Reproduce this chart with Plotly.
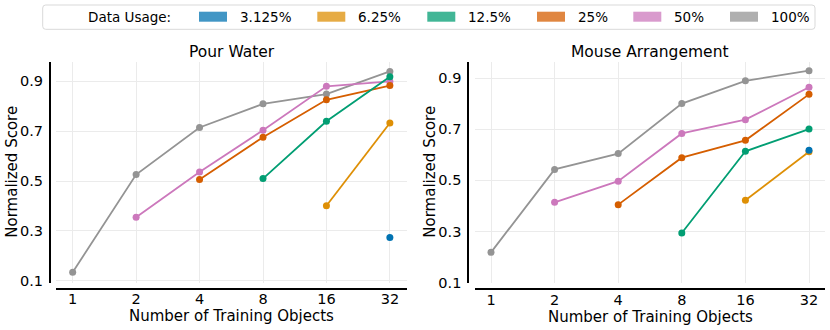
import numpy as np
import plotly.graph_objects as go

# x categories (number of training objects)
objects = [1, 2, 4, 8, 16, 32]
usage_labels = ['3.125%', '6.25%', '12.5%', '25%', '50%', '100%']
line_colors = ['#0173B2', '#DE8F05', '#029E73', '#D55E00', '#CC78BC', '#949494']
patch_colors = ['#4196C5', '#E6AB44', '#41B696', '#E08640', '#D99ACD', '#AFAFAF']

# Pour Water scores per data usage
pw_3125 = [None, None, None, None, None, 0.273]
pw_625 = [None, None, None, None, 0.401, 0.733]
pw_125 = [None, None, None, 0.510, 0.740, 0.919]
pw_25 = [None, None, 0.506, 0.676, 0.826, 0.883]
pw_50 = [None, 0.355, 0.536, 0.704, 0.880, 0.900]
pw_100 = [0.134, 0.526, 0.715, 0.810, 0.849, 0.940]

# Mouse Arrangement scores per data usage
ma_3125 = [None, None, None, None, None, 0.618]
ma_625 = [None, None, None, None, 0.422, 0.612]
ma_125 = [None, None, None, 0.294, 0.614, 0.701]
ma_25 = [None, None, 0.405, 0.589, 0.657, 0.837]
ma_50 = [None, 0.414, 0.497, 0.684, 0.738, 0.865]
ma_100 = [0.218, 0.543, 0.605, 0.801, 0.890, 0.930]

pour_water = [pw_3125, pw_625, pw_125, pw_25, pw_50, pw_100]
mouse_arr = [ma_3125, ma_625, ma_125, ma_25, ma_50, ma_100]

W, H = 830, 330
FONT = 'DejaVu Sans'


def px_x(p):
    return p / W


def px_y(p):
    return 1 - p / H


fig = go.Figure()

# draw 100% first so smaller usages sit on top
for panel, (xa, ya) in zip([pour_water, mouse_arr], [('x', 'y'), ('x2', 'y2')]):
    for i in reversed(range(len(usage_labels))):
        fig.add_trace(go.Scatter(
            x=objects, y=panel[i], xaxis=xa, yaxis=ya,
            mode='lines+markers', name=usage_labels[i], showlegend=False,
            line=dict(color=line_colors[i], width=1.8),
            marker=dict(color=line_colors[i], size=7),
            connectgaps=False,
        ))


def log2_range(lo, hi):
    return [np.log10(2 ** lo), np.log10(2 ** hi)]


xcommon = dict(
    type='log', tickvals=objects, ticktext=[str(o) for o in objects],
    showgrid=True, gridcolor='#ebebeb', gridwidth=1,
    showline=True, linecolor='black', linewidth=2,
    ticks='', zeroline=False, automargin=False, ticklabelstandoff=-3,
    tickfont=dict(family=FONT, size=14.5, color='black'),
    anchor='free',
)
ycommon = dict(
    tickvals=[0.1, 0.3, 0.5, 0.7, 0.9], ticktext=['0.1', '0.3', '0.5', '0.7', '0.9'],
    showgrid=True, gridcolor='#ebebeb', gridwidth=1,
    showline=True, linecolor='black', linewidth=2,
    ticks='', zeroline=False, automargin=False, ticklabelstandoff=3,
    tickfont=dict(family=FONT, size=14.5, color='black'),
    anchor='free',
)

ydom = [px_y(283), px_y(61.7)]
fig.update_layout(
    width=W, height=H,
    margin=dict(l=0, r=0, t=0, b=0),
    plot_bgcolor='white', paper_bgcolor='white',
    font=dict(family=FONT, size=14, color='black'),
    xaxis=dict(xcommon, domain=[px_x(56), px_x(407)], range=log2_range(-0.263, 5.27),
               position=px_y(288.7)),
    yaxis=dict(ycommon, domain=ydom, range=[0.0908, 0.979], position=px_x(50)),
    xaxis2=dict(xcommon, domain=[px_x(475), px_x(825)], range=log2_range(-0.2516, 5.2516),
                position=px_y(289.3)),
    yaxis2=dict(ycommon, domain=ydom, range=[0.098, 0.965], position=px_x(468.3)),
)

# panel titles and axis titles
texts = [
    ('Pour Water', 232.2, 52.3, 0, 15.5),
    ('Mouse Arrangement', 650.3, 52.3, 0, 15.5),
    ('Number of Training Objects', 231.7, 316.3, 0, 15),
    ('Number of Training Objects', 650, 316.7, 0, 15),
    ('Normalized Score', 12, 171.7, -90, 15),
    ('Normalized Score', 430, 171.7, -90, 15),
]
for t, x, y, ang, fs in texts:
    fig.add_annotation(text=t, x=px_x(x), y=px_y(y), xref='paper', yref='paper',
                       xanchor='center', yanchor='middle', showarrow=False,
                       textangle=ang, font=dict(family=FONT, size=fs, color='black'))

# legend box drawn by hand (matplotlib-style wide patches)
bx0, bx1, by0, by1, r = 42.7, 815, 5, 29.3, 3
path = (f'M {px_x(bx0 + r)},{px_y(by0)} L {px_x(bx1 - r)},{px_y(by0)} '
        f'Q {px_x(bx1)},{px_y(by0)} {px_x(bx1)},{px_y(by0 + r)} '
        f'L {px_x(bx1)},{px_y(by1 - r)} Q {px_x(bx1)},{px_y(by1)} {px_x(bx1 - r)},{px_y(by1)} '
        f'L {px_x(bx0 + r)},{px_y(by1)} Q {px_x(bx0)},{px_y(by1)} {px_x(bx0)},{px_y(by1 - r)} '
        f'L {px_x(bx0)},{px_y(by0 + r)} Q {px_x(bx0)},{px_y(by0)} {px_x(bx0 + r)},{px_y(by0)} Z')
fig.add_shape(type='path', path=path, xref='paper', yref='paper',
              line=dict(color='#d9d9d9', width=1), fillcolor='white')

ly = 16.7
fig.add_annotation(text='Data Usage:', x=px_x(86), y=px_y(ly), xref='paper', yref='paper',
                   xanchor='left', yanchor='middle', showarrow=False,
                   font=dict(family=FONT, size=13.5, color='black'))
patch_x = [199, 317.3, 427.3, 537, 633.3, 730]
for lab, col, x0 in zip(usage_labels, patch_colors, patch_x):
    fig.add_shape(type='rect', xref='paper', yref='paper',
                  x0=px_x(x0), x1=px_x(x0 + 28), y0=px_y(ly + 5), y1=px_y(ly - 5),
                  fillcolor=col, line=dict(width=0))
    fig.add_annotation(text=lab, x=px_x(x0 + 38.5), y=px_y(ly), xref='paper', yref='paper',
                       xanchor='left', yanchor='middle', showarrow=False,
                       font=dict(family=FONT, size=13.5, color='black'))

# page body has a default margin; drop it so the figure fills the window
fig.write_html('out.html', config={'displayModeBar': False},
               post_script="document.body.style.margin='0';")
